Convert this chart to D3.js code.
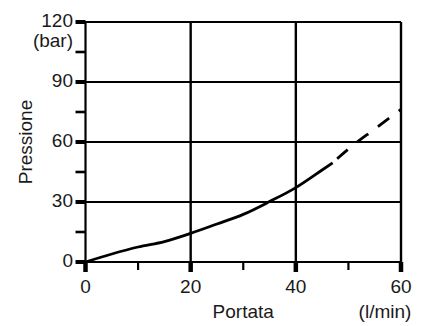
<!DOCTYPE html>
<html>
<head>
<meta charset="utf-8">
<script src="https://cdn.jsdelivr.net/npm/d3@7"></script>
<style>
  html, body { margin: 0; padding: 0; background: #fff; }
  svg { display: block; }
  text { font-family: "Liberation Sans", Arial, sans-serif; fill: #1a1a1a; }
</style>
</head>
<body>
<svg id="chart" width="422" height="326"></svg>
<script>
// Data
const flowSolid = [0, 5, 10, 15, 20, 25, 30, 35, 40, 45, 47];
const pressureSolid = [0, 4, 7.5, 10.2, 14.3, 19, 23.8, 30.2, 37.2, 46, 49.6];
const flowDashed = [47, 50, 55, 60];
const pressureDashed = [49.6, 56.5, 66.5, 76.3];
const xMajorTicks = [0, 20, 40, 60];
const xMinorTicks = [10, 30, 50];
const yMajorTicks = [0, 30, 60, 90, 120];
const yMinorTicks = [15, 45, 75, 105];
const xTitle = "Portata";
const xUnit = "(l/min)";
const yTitle = "Pressione";
const yUnit = "(bar)";

const svg = d3.select("#chart");
const pLeft = 85.5, pRight = 401, pTop = 22, pBottom = 262;
const x = d3.scaleLinear().domain([0, 60]).range([pLeft, pRight]);
const y = d3.scaleLinear().domain([0, 120]).range([pBottom, pTop]);

// gridlines
svg.append("g").selectAll("line").data(yMajorTicks.filter(d => d > 0)).join("line")
  .attr("x1", x(0)).attr("x2", x(60)).attr("y1", d => y(d)).attr("y2", d => y(d))
  .attr("stroke", "#000").attr("stroke-width", 2.2);
svg.append("g").selectAll("line").data(xMajorTicks.filter(d => d > 0)).join("line")
  .attr("x1", d => x(d)).attr("x2", d => x(d)).attr("y1", y(120)).attr("y2", y(0))
  .attr("stroke", "#000").attr("stroke-width", 2.4);

// axes lines
svg.append("line").attr("x1", x(0)).attr("x2", x(0)).attr("y1", y(120) - 1).attr("y2", y(0) + 1)
  .attr("stroke", "#000").attr("stroke-width", 2.2);
svg.append("line").attr("x1", x(0)).attr("x2", x(60)).attr("y1", y(0)).attr("y2", y(0))
  .attr("stroke", "#000").attr("stroke-width", 2);

// y ticks
svg.append("g").selectAll("line").data(yMajorTicks).join("line")
  .attr("x1", x(0) - 10).attr("x2", x(0)).attr("y1", d => y(d)).attr("y2", d => y(d))
  .attr("stroke", "#000").attr("stroke-width", 4);
svg.append("g").selectAll("line").data(yMinorTicks).join("line")
  .attr("x1", x(0) - 10).attr("x2", x(0)).attr("y1", d => y(d)).attr("y2", d => y(d))
  .attr("stroke", "#000").attr("stroke-width", 2.6);

// x ticks
svg.append("g").selectAll("line").data(xMajorTicks).join("line")
  .attr("x1", d => x(d)).attr("x2", d => x(d)).attr("y1", y(0)).attr("y2", y(0) + 10)
  .attr("stroke", "#000").attr("stroke-width", 4.5);
svg.append("g").selectAll("line").data(xMinorTicks).join("line")
  .attr("x1", d => x(d)).attr("x2", d => x(d)).attr("y1", y(0)).attr("y2", y(0) + 8)
  .attr("stroke", "#000").attr("stroke-width", 2.2);

// curves
const line = d3.line().x(d => x(d[0])).y(d => y(d[1])).curve(d3.curveMonotoneX);
svg.append("path").datum(flowSolid.map((f, i) => [f, pressureSolid[i]]))
  .attr("d", line).attr("fill", "none").attr("stroke", "#000").attr("stroke-width", 2.8);
svg.append("path").datum(flowDashed.map((f, i) => [f, pressureDashed[i]]))
  .attr("d", line).attr("fill", "none").attr("stroke", "#000").attr("stroke-width", 2.8)
  .attr("stroke-dasharray", "0,6,14,6");

// y tick labels
svg.append("g").selectAll("text").data(yMajorTicks).join("text")
  .attr("x", 73).attr("y", d => y(d) + 5).attr("text-anchor", "end")
  .attr("font-size", 19).text(d => d);
svg.append("text").attr("x", 73).attr("y", 47).attr("text-anchor", "end")
  .attr("font-size", 19).text(yUnit);

// x tick labels
svg.append("g").selectAll("text").data(xMajorTicks).join("text")
  .attr("x", d => x(d)).attr("y", 293).attr("text-anchor", "middle")
  .attr("font-size", 19).text(d => d);
svg.append("text").attr("x", x(30)).attr("y", 318).attr("text-anchor", "middle")
  .attr("font-size", 19).text(xTitle);
svg.append("text").attr("x", 385).attr("y", 318).attr("text-anchor", "middle")
  .attr("font-size", 19).text(xUnit);

// y title
svg.append("text").attr("transform", `translate(31.5,${y(60)}) rotate(-90)`)
  .attr("text-anchor", "middle").attr("font-size", 19).text(yTitle);
</script>
</body>
</html>
